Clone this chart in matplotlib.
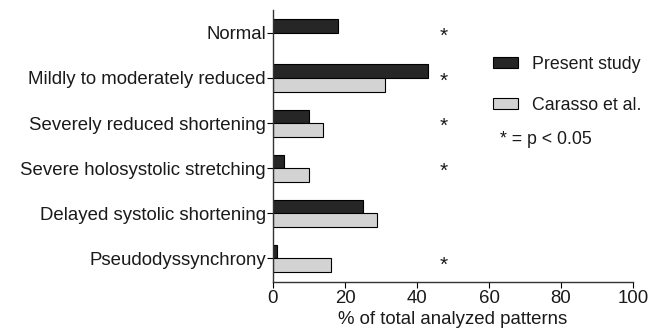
import numpy as np
from matplotlib import pyplot as plt
from matplotlib.patches import Patch

plt.rcParams['font.family'] = ['Liberation Sans', 'DejaVu Sans']

categories = ['Normal', 'Mildly to moderately reduced', 'Severely reduced shortening',
              'Severe holosystolic stretching', 'Delayed systolic shortening',
              'Pseudodyssynchrony']
present = [18, 43, 10, 3, 25, 1]
carasso = [0, 31, 14, 10, 29, 16]
signif = [True, True, True, True, False, True]
star_shift = [0, 0, 0, 0, 0, 0.1]   # last star sits by the light bar

dark = '#262626'
light = '#d3d3d3'
txt = '#1a1a1a'
fs = 13.4

fig = plt.figure(figsize=(6.51, 3.35), dpi=100)
ax = fig.add_axes([273/651, 53/335, 360/651, 272/335])

y = np.arange(len(categories))
h = 0.3
ax.barh(y - h/2, present, height=h, color=dark, edgecolor='black', linewidth=0.8)
# no Carasso bar for "Normal"
cy = [yy + h/2 for yy, v in zip(y, carasso) if v > 0]
cv = [v for v in carasso if v > 0]
ax.barh(cy, cv, height=h, color=light, edgecolor='black', linewidth=0.8)

for yy, s, d in zip(y, signif, star_shift):
    if s:
        ax.text(47.5, yy + d + 0.07, '*', ha='center', va='center', fontsize=15, color=txt)

ax.set_ylim(len(categories) - 0.47, -0.51)
ax.set_xlim(0, 100)
ax.set_yticks(y)
ax.set_yticklabels(categories, fontsize=fs, color=txt)
ax.set_xticks([0, 20, 40, 60, 80, 100])
ax.tick_params(axis='x', labelsize=fs, labelcolor=txt, length=4, pad=2)
ax.tick_params(axis='y', length=4, pad=1)
ax.set_xlabel('% of total analyzed patterns', fontsize=fs, color=txt, labelpad=3)
for side in ['top', 'right']:
    ax.spines[side].set_visible(False)
for side in ['left', 'bottom']:
    ax.spines[side].set_color('#333333')
    ax.spines[side].set_linewidth(1.0)

handles = [Patch(facecolor=dark, edgecolor='black', linewidth=0.8),
           Patch(facecolor=light, edgecolor='black', linewidth=0.8)]
fig.legend(handles, ['Present study', 'Carasso et al.'], loc='upper left',
           bbox_to_anchor=(477/651, 1 - 40/335), frameon=False, fontsize=12.8,
           handlelength=1.4, handleheight=0.6, labelspacing=1.35, handletextpad=0.78,
           labelcolor=txt)
fig.text(500/651, 1 - 140/335, '* = p < 0.05', fontsize=12.8, va='center', color=txt)

plt.savefig('out.png', dpi=100)
